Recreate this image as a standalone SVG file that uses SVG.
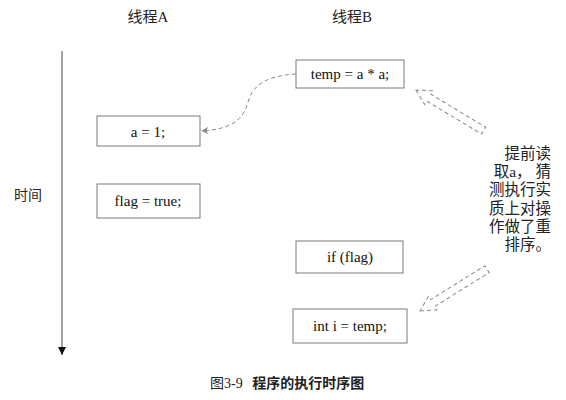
<svg xmlns="http://www.w3.org/2000/svg" width="566" height="400" viewBox="0 0 566 400">
<style>
.box{fill:#fff;stroke:#7a7a7a;stroke-width:1}
.code{font-family:"Liberation Serif","Noto Sans CJK SC",serif;font-size:15px;fill:#111;text-anchor:middle}
.cjk{font-family:"Liberation Serif","Noto Sans CJK SC",serif;font-size:14px;fill:#222}
.dash{fill:none;stroke:#888;stroke-width:1;stroke-dasharray:4 3}
</style>
<defs>
<marker id="ah" viewBox="0 0 10 10" refX="9" refY="5" markerWidth="7" markerHeight="7" orient="auto">
<path d="M0,0 L10,5 L0,10 L3,5 Z" fill="#888"/>
</marker>
<marker id="axh" viewBox="0 0 10 10" refX="10" refY="5" markerWidth="8" markerHeight="8" markerUnits="userSpaceOnUse" orient="auto">
<path d="M0,0 L10,5 L0,10 Z" fill="#111"/>
</marker>
</defs>
<text class="cjk" x="148" y="22" text-anchor="middle" style="font-size:15px">线程A</text>
<text class="cjk" x="352" y="22" text-anchor="middle" style="font-size:15px">线程B</text>
<text class="cjk" x="28" y="200" text-anchor="middle">时间</text>
<g id="axis">
<line x1="62" y1="51" x2="62" y2="355" stroke="#666" stroke-width="1.2" marker-end="url(#axh)"/>
</g>
<g id="n_a1"><rect class="box" x="97" y="116" width="103" height="30"/><text class="code" x="148" y="137">a = 1;</text></g>
<g id="n_flag"><rect class="box" x="97" y="184" width="103" height="34"/><text class="code" x="148" y="206">flag = true;</text></g>
<g id="n_temp"><rect class="box" x="296" y="60" width="108" height="28"/><text class="code" x="350" y="79">temp = a * a;</text></g>
<g id="n_if"><rect class="box" x="296" y="241" width="107" height="32"/><text class="code" x="350" y="262">if (flag)</text></g>
<g id="n_int"><rect class="box" x="293" y="309" width="114" height="34"/><text class="code" x="350" y="331">int i = temp;</text></g>
<g id="connectors">
<path class="dash" d="M296,74 C262,76 252,88 248,102 C243,120 232,129 202,131" marker-end="url(#ah)"/>
<polygon class="dash" transform="translate(416,90) rotate(211)" points="0,0 -15,-8 -15,-4 -79,-4 -79,4 -15,4 -15,8"/>
<polygon class="dash" transform="translate(420,311) rotate(148)" points="0,0 -15,-8 -15,-4 -79,-4 -79,4 -15,4 -15,8"/>
</g>
<g id="note" class="cjk" style="font-size:15.5px" text-anchor="end">
<text x="551" y="159">提前读</text>
<text x="551" y="177">取a， 猜</text>
<text x="551" y="195">测执行实</text>
<text x="551" y="214">质上对操</text>
<text x="551" y="232">作做了重</text>
<text x="551" y="250">排序。</text>
</g>
<text class="cjk" x="210" y="388" style="font-size:14px">图3-9 <tspan dx="6" font-weight="bold">程序的执行时序图</tspan></text>
</svg>
